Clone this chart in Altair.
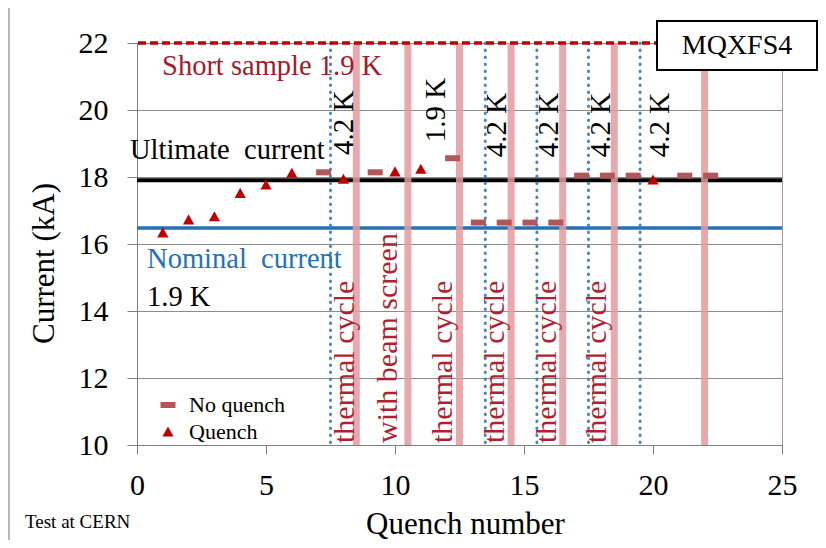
import altair as alt
import pandas as pd

SERIF = "Liberation Serif"

# ---- data ----
quench_x = [1, 2, 3, 4, 5, 6, 8, 10, 11, 20]
quench_y = [16.33, 16.72, 16.81, 17.51, 17.76, 18.11, 17.93, 18.15, 18.23, 17.91]

noquench_x = [7, 9, 12, 13, 14, 15, 16, 17, 18, 19, 21, 22]
noquench_y = [18.14, 18.14, 18.56, 16.64, 16.64, 16.64, 16.64, 18.04, 18.04, 18.04, 18.04, 18.04]

short_sample_current = [22.0]
ultimate_current = [17.9]
nominal_current = [16.48]

thermal_cycle_x = [8.5, 10.5, 12.5, 14.5, 16.5, 18.5, 22.0]
warm_4k_x = [7.5, 13.5, 15.5, 17.5, 19.5]

temp_labels = ["4.2 K", "1.9 K", "4.2 K", "4.2 K", "4.2 K", "4.2 K"]
temp_label_x = [8.02, 11.59, 13.97, 15.97, 17.98, 20.27]
temp_label_y = [19.62, 20.0, 19.55, 19.55, 19.55, 19.55]

event_labels = ["thermal cycle", "with beam screen", "thermal cycle",
                "thermal cycle", "thermal cycle", "thermal cycle"]
event_label_x = [8.06, 9.73, 11.86, 13.88, 15.89, 17.83]
event_label_y = [10.06] * 6

h_labels = ["Short sample 1.9 K", "Ultimate\u00a0 current", "Nominal\u00a0 current", "1.9 K"]
h_label_x = [0.97, -0.27, 0.39, 0.39]
h_label_y = [21.04, 18.54, 15.28, 14.15]
h_label_color = ["#A01C2C", "#000000", "#2472B5", "#000000"]

x_ticks = [0, 5, 10, 15, 20, 25]
y_ticks = [10, 12, 14, 16, 18, 20, 22]

# ---- scales / axes ----
xs = alt.Scale(domain=[0, 25], nice=False, zero=False)
ys = alt.Scale(domain=[10, 22], nice=False, zero=False)

xaxis = alt.Axis(values=x_ticks, title="Quench number", labelFont=SERIF, labelFontSize=30,
                 labelColor="black", titleFont=SERIF, titleFontSize=31, titleFontWeight="normal",
                 titleColor="black", domainColor="#7f7f7f", tickColor="#7f7f7f", tickSize=9,
                 labelPadding=16, grid=False, labelFlush=False, titleX=328, titleY=88,
                 titleBaseline="alphabetic", titleAlign="center")
yaxis = alt.Axis(values=y_ticks, title="Current (kA)", labelFont=SERIF, labelFontSize=30,
                 labelColor="black", titleFont=SERIF, titleFontSize=31, titleFontWeight="normal",
                 titleColor="black", domainColor="#7f7f7f", tickColor="#7f7f7f", tickSize=10,
                 labelPadding=19, grid=True, gridColor="#8c8c8c", gridWidth=1, labelFlush=False,
                 titleAngle=270, titleX=-93, titleY=220, titleAlign="center", titleBaseline="middle")

X = lambda f: alt.X(f, type="quantitative", scale=xs, axis=xaxis)
Y = lambda f: alt.Y(f, type="quantitative", scale=ys, axis=yaxis)

RECT_PATH = "M-1,-0.4L1,-0.4L1,0.4L-1,0.4Z"
TRI_PATH = "M0,-0.75L0.75,0.6L-0.75,0.6Z"
types = ["No quench", "Quench"]
legend = alt.Legend(title=None, orient="none", legendX=20, legendY=351, labelFont=SERIF,
                    labelFontSize=22, labelColor="black", symbolSize=225, padding=0,
                    labelOffset=10, rowPadding=5, symbolStrokeWidth=0)
color = alt.Color("type:N", scale=alt.Scale(domain=types, range=["#B0575C", "#C00000"]), legend=legend)
shape = alt.Shape("type:N", scale=alt.Scale(domain=types, range=[RECT_PATH, TRI_PATH]), legend=legend)

one = pd.DataFrame({"a": [0]})

# ---- layers ----
frame_left = alt.Chart(one).mark_rule(color="#a0a0a0", strokeWidth=1.5).encode(
    x=alt.value(-128), y=alt.value(-37), y2=alt.value(500))
frame_top = alt.Chart(one).mark_rule(color="#a0a0a0", strokeWidth=1.5).encode(
    x=alt.value(-128), x2=alt.value(690), y=alt.value(-37))

ult = alt.Chart(pd.DataFrame({"y": ultimate_current})).mark_rule(
    color="black", strokeWidth=4).encode(y=Y("y"))
nom = alt.Chart(pd.DataFrame({"y": nominal_current})).mark_rule(
    color="#2472B5", strokeWidth=3.5).encode(y=Y("y"))

pink = alt.Chart(pd.DataFrame({"x": thermal_cycle_x})).mark_rule(
    color="#E39A9E", strokeWidth=7, opacity=0.85).encode(x=X("x"))
blue = alt.Chart(pd.DataFrame({"x": warm_4k_x})).mark_rule(
    color="#4A86B8", strokeWidth=3, strokeDash=[0.5, 6.5], strokeCap="round").encode(x=X("x"))

ss = alt.Chart(pd.DataFrame({"y": short_sample_current})).mark_rule(
    color="#C00000", strokeWidth=3.5, strokeDash=[8, 4]).encode(y=Y("y"))

nq = alt.Chart(pd.DataFrame({"x": noquench_x, "y": noquench_y, "type": ["No quench"] * len(noquench_x)})
               ).mark_point(filled=True, size=225, opacity=1, xOffset=6).encode(
    x=X("x"), y=Y("y"), color=color, shape=shape)
q = alt.Chart(pd.DataFrame({"x": quench_x, "y": quench_y, "type": ["Quench"] * len(quench_x)})
              ).mark_point(filled=True, size=225, opacity=1).encode(
    x=X("x"), y=Y("y"), color=color, shape=shape)

temp_txt = alt.Chart(pd.DataFrame({"x": temp_label_x, "y": temp_label_y, "t": temp_labels})
                     ).mark_text(angle=270, align="center", baseline="middle", font=SERIF,
                                 fontSize=29, color="black").encode(x=X("x"), y=Y("y"), text="t:N")
event_txt = alt.Chart(pd.DataFrame({"x": event_label_x, "y": event_label_y, "t": event_labels})
                      ).mark_text(angle=270, align="left", baseline="middle", font=SERIF,
                                  fontSize=30, color="#B21F30").encode(x=X("x"), y=Y("y"), text="t:N")
h_txt = alt.Chart(pd.DataFrame({"x": h_label_x, "y": h_label_y, "t": h_labels, "c": h_label_color})
                  ).mark_text(align="left", baseline="alphabetic", font=SERIF, fontSize=28.5).encode(
    x=X("x"), y=Y("y"), text="t:N", color=alt.Color("c:N", scale=None))

box = alt.Chart(one).mark_rect(fill="white", stroke="black", strokeWidth=2).encode(
    x=alt.value(520), x2=alt.value(680), y=alt.value(-22), y2=alt.value(27))
box_txt = alt.Chart(one).mark_text(font=SERIF, fontSize=28, color="black", align="center",
                                   baseline="middle").encode(
    x=alt.value(600), y=alt.value(3), text=alt.value("MQXFS4"))
cern = alt.Chart(one).mark_text(font=SERIF, fontSize=19, color="black", align="left",
                                baseline="alphabetic").encode(
    x=alt.value(-112), y=alt.value(485), text=alt.value("Test at CERN"))

chart = alt.layer(
    frame_left, frame_top, ult, nom, pink, blue, ss, nq, q, temp_txt, event_txt, h_txt,
    box, box_txt, cern
).properties(
    width=645, height=402,
    autosize=alt.AutoSizeParams(type="none"),
    padding={"left": 129, "top": 35, "right": 36, "bottom": 95},
    background="white",
).configure_view(stroke="#b09898", strokeWidth=1)

chart.save("out.html", embed_options={"renderer": "svg", "actions": False})
